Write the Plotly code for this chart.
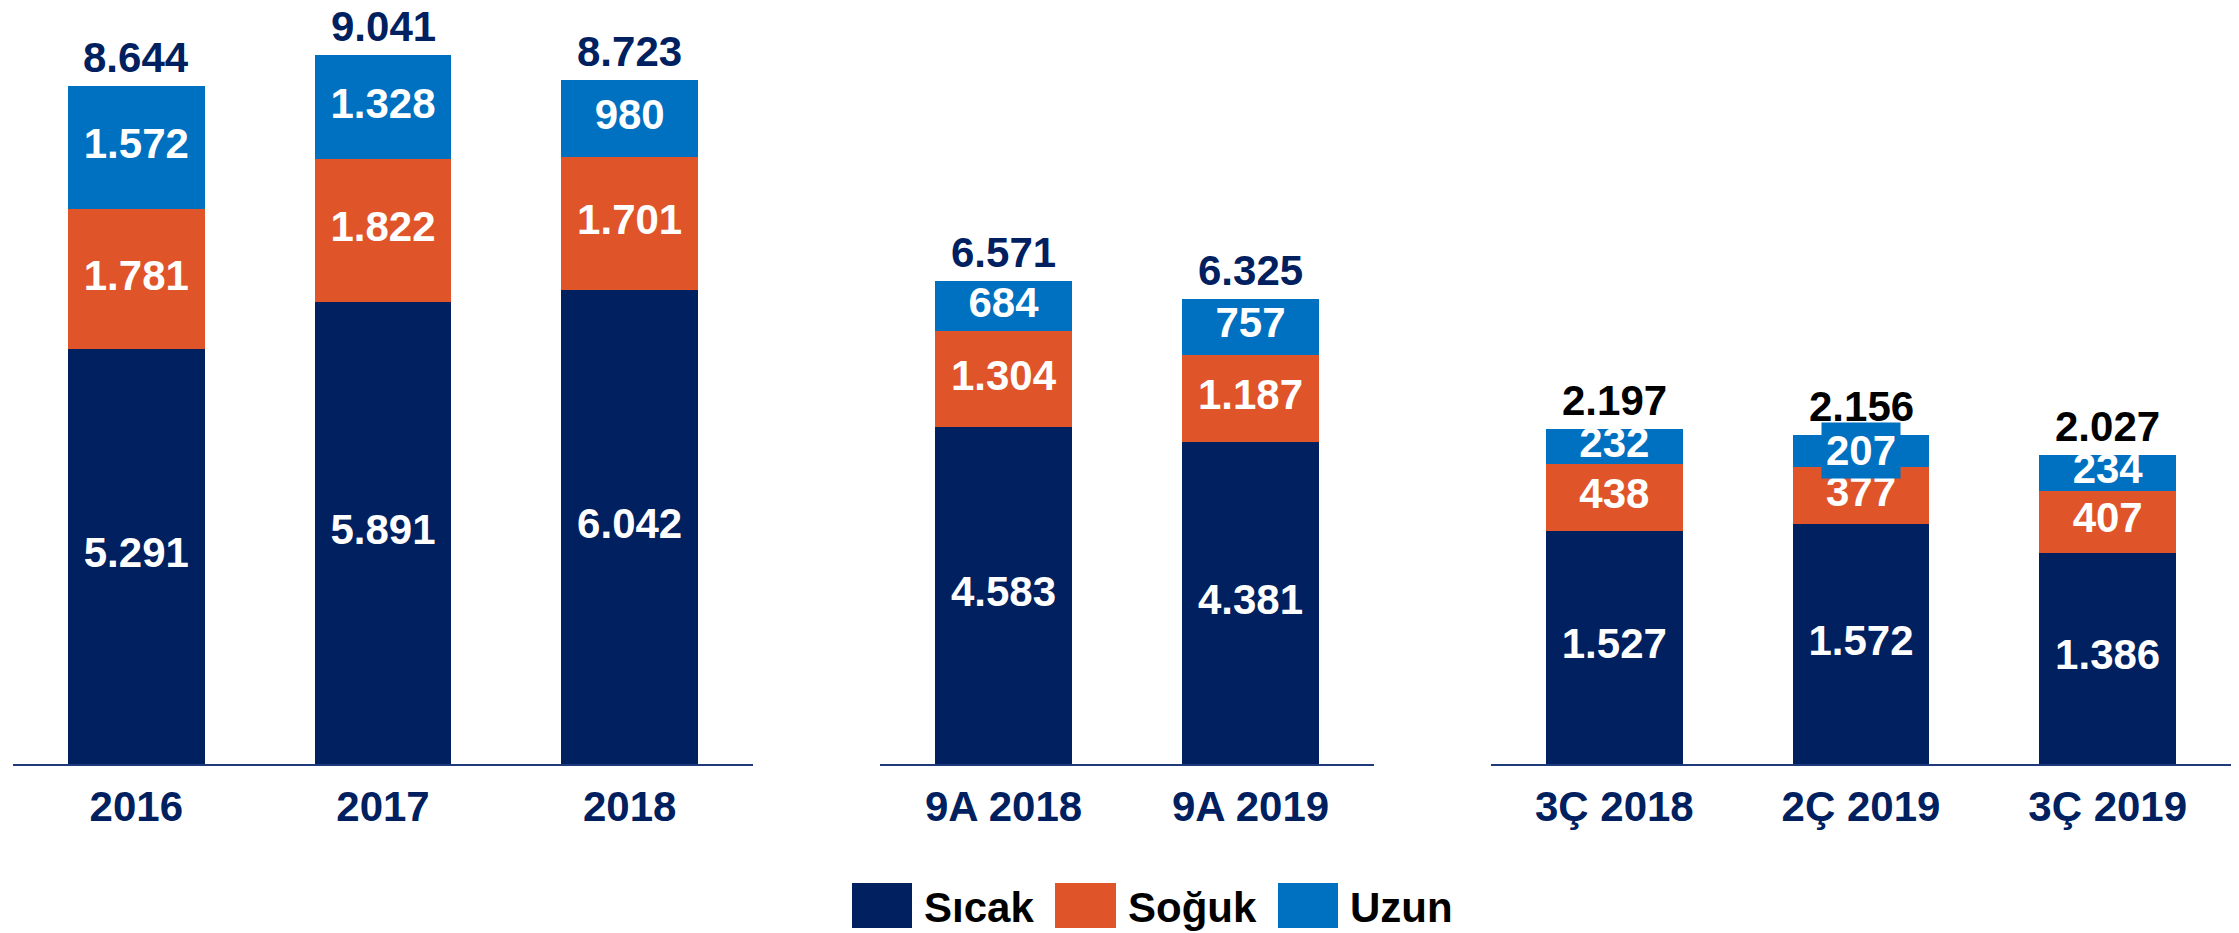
import plotly.graph_objects as go

# ---------------- data ----------------
cats1 = ["2016", "2017", "2018"]
sicak1 = [5291, 5891, 6042]
soguk1 = [1781, 1822, 1701]
uzun1 = [1572, 1328, 980]

cats2 = ["9A 2018", "9A 2019"]
sicak2 = [4583, 4381]
soguk2 = [1304, 1187]
uzun2 = [684, 757]

cats3 = ["3Ç 2018", "2Ç 2019", "3Ç 2019"]
sicak3 = [1527, 1572, 1386]
soguk3 = [438, 377, 407]
uzun3 = [232, 207, 234]

series_names = ["Sıcak", "Soğuk", "Uzun"]

# ---------------- style ----------------
W, H = 2239, 933
C_SICAK = "#002060"
C_SOGUK = "#E0542A"
C_UZUN = "#0070C0"
NAVY = "#002060"
FONT = "Liberation Sans"
FS = 42
colors = [C_SICAK, C_SOGUK, C_UZUN]

def fmt(v):
    return f"{v:,}".replace(",", ".")

def px_x(p):
    return p / W

def px_y(p):
    return 1 - p / H

base_px = 764
y_dom = [px_y(base_px), 1.0]
panels = [
    dict(cats=cats1, data=[sicak1, soguk1, uzun1], xdom=[px_x(13), px_x(753)],
         yrange=[0, base_px / 0.07842], total_color=NAVY),
    dict(cats=cats2, data=[sicak2, soguk2, uzun2], xdom=[px_x(880), px_x(1374)],
         yrange=[0, base_px / 0.0735], total_color=NAVY),
    dict(cats=cats3, data=[sicak3, soguk3, uzun3], xdom=[px_x(1491), px_x(2231)],
         yrange=[0, base_px / 0.1525], total_color="#000000"),
]

fig = go.Figure()
layout_axes = {}
annotations = []
for i, p in enumerate(panels):
    n = "" if i == 0 else str(i + 1)
    xa, ya = "x" + n, "y" + n
    cats = p["cats"]
    cum = [0] * len(cats)
    for s, (name, vals) in enumerate(zip(series_names, p["data"])):
        fig.add_trace(go.Bar(
            x=cats, y=vals, name=name, marker=dict(color=colors[s], line=dict(width=0)),
            xaxis=xa, yaxis=ya, showlegend=False, textposition="none",
            hoverinfo="skip",
        ))
        mids = [c + v / 2 for c, v in zip(cum, vals)]
        texts = [fmt(v) for v in vals]
        # label box wider than its thin segment (as in the reference)
        if i == 2 and s == 2:
            for k, (m, t) in enumerate(zip(mids, texts)):
                if vals[k] < 215:
                    annotations.append(dict(
                        x=k, y=m, xref=xa, yref=ya, text=t, showarrow=False,
                        bgcolor=C_UZUN, borderpad=4,
                        font=dict(family=FONT, size=FS, color="white", weight="bold"),
                    ))
                    texts[k] = ""
        fig.add_trace(go.Scatter(
            x=cats, y=mids, text=texts, mode="text", textposition="middle center",
            textfont=dict(family=FONT, size=FS, color="white", weight="bold"),
            xaxis=xa, yaxis=ya, showlegend=False, hoverinfo="skip",
        ))
        cum = [c + v for c, v in zip(cum, vals)]
    for k, t in enumerate(cum):
        annotations.append(dict(
            x=k, y=t, xref=xa, yref=ya, text=fmt(t), showarrow=False,
            yanchor="bottom", yshift=3,
            font=dict(family=FONT, size=FS, color=p["total_color"], weight="bold"),
        ))
    layout_axes["xaxis" + n] = dict(
        domain=p["xdom"], anchor=ya, type="category", range=[-0.5, len(cats) - 0.5],
        showline=True, linecolor="#1F3A7A", linewidth=2, showgrid=False, zeroline=False,
        ticks="", ticklabelstandoff=5,
        tickfont=dict(family=FONT, size=FS, color=NAVY, weight="bold"),
        fixedrange=True,
    )
    layout_axes["yaxis" + n] = dict(
        domain=y_dom, anchor=xa, range=p["yrange"], visible=False, showgrid=False,
        zeroline=False, fixedrange=True,
    )

# ---------------- legend (drawn manually for large swatches) ----------------
legend_items = [
    ("Sıcak", C_SICAK, 852, 912),
    ("Soğuk", C_SOGUK, 1055, 1116),
    ("Uzun", C_UZUN, 1278, 1338),
]
shapes = []
for label, col, x0, x1 in legend_items:
    shapes.append(dict(type="rect", xref="paper", yref="paper",
                       x0=px_x(x0), x1=px_x(x1), y0=px_y(928), y1=px_y(883),
                       fillcolor=col, line=dict(width=0)))
    annotations.append(dict(
        x=px_x(x1 + 10), y=px_y(907), xref="paper", yref="paper", text=label,
        showarrow=False, xanchor="left", yanchor="middle",
        font=dict(family=FONT, size=FS, color="black", weight="bold"),
    ))

fig.update_layout(
    width=W, height=H, margin=dict(l=0, r=0, t=0, b=0),
    plot_bgcolor="white", paper_bgcolor="white",
    barmode="stack", bargap=0.4453,
    shapes=shapes, annotations=annotations, showlegend=False,
    **layout_axes,
)

fig.write_html("out.html", config={"displayModeBar": False},
               post_script="document.body.style.margin='0';document.body.style.overflow='hidden';")
